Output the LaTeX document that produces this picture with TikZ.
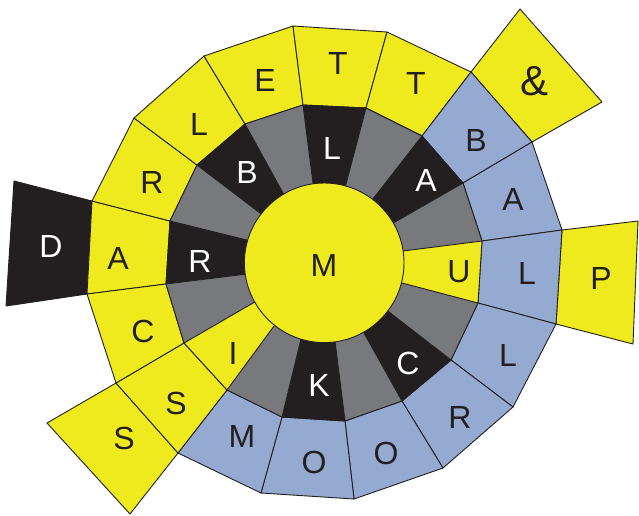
\documentclass[tikz,border=0pt]{standalone}
\usepackage{fontspec}
\setmainfont{Liberation Sans}
\usetikzlibrary{calc}
\definecolor{ylw}{RGB}{238,234,30}
\definecolor{gry}{RGB}{120,121,125}
\definecolor{drk}{RGB}{35,31,32}
\definecolor{blu}{RGB}{149,170,208}
\begin{document}
\begin{tikzpicture}[x=1pt,y=-1pt,
  edge/.style={draw=drk,line width=0.9pt,line join=round},
  blk/.style={font=\fontsize{32}{32}\selectfont,text=drk,inner sep=0pt},
  wht/.style={font=\fontsize{32}{32}\selectfont,text=white,inner sep=0pt}]
\useasboundingbox (0,0) rectangle (639,515);
% outer, middle and circle points
\coordinate (o1) at (87,294);   \coordinate (m1) at (166,284);  \coordinate (c1) at (247,274);
\coordinate (o2) at (92,201);   \coordinate (m2) at (170,221);  \coordinate (c2) at (247,240);
\coordinate (o3) at (134,118);  \coordinate (m3) at (197,165);  \coordinate (c3) at (260,213);
\coordinate (o4) at (204,56);   \coordinate (m4) at (245,124);  \coordinate (c4) at (283,193);
\coordinate (o5) at (293,26);   \coordinate (m5) at (303,105);  \coordinate (c5) at (313,183);
\coordinate (o6) at (387,32);   \coordinate (m6) at (366,108);  \coordinate (c6) at (346,184);
\coordinate (o7) at (471,72);   \coordinate (m7) at (422,136);  \coordinate (c7) at (373,199);
\coordinate (o8) at (532,142);  \coordinate (m8) at (463,183);  \coordinate (c8) at (395,222);
\coordinate (o9) at (562,230);  \coordinate (m9) at (482,241);  \coordinate (c9) at (403,251);
\coordinate (o10) at (556,324); \coordinate (m10) at (478,303); \coordinate (c10) at (402,283);
\coordinate (o11) at (513,407); \coordinate (m11) at (451,360); \coordinate (c11) at (389,312);
\coordinate (o12) at (443,468); \coordinate (m12) at (402,401); \coordinate (c12) at (364,333);
\coordinate (o13) at (354,499); \coordinate (m13) at (345,421); \coordinate (c13) at (335,341);
\coordinate (o14) at (261,493); \coordinate (m14) at (282,417); \coordinate (c14) at (301,339);
\coordinate (o15) at (178,453); \coordinate (m15) at (227,390); \coordinate (c15) at (274,326);
\coordinate (o16) at (116,383); \coordinate (m16) at (184,343); \coordinate (c16) at (253,303);
\coordinate (ctr) at (324.2,262.8);
% extra blocks
\filldraw[edge,fill=drk] (14,181) -- (o2) -- (o1) -- (6,306) -- cycle;
\filldraw[edge,fill=ylw] (o7) -- (520,9) -- (602,102) -- (o8) -- cycle;
\filldraw[edge,fill=ylw] (o9) -- (638,221) -- (633,344) -- (o10) -- cycle;
\filldraw[edge,fill=ylw] (o16) -- (47,423) -- (130,514) -- (o15) -- cycle;
% outer ring
\foreach \i/\j/\col in {1/2/ylw,2/3/ylw,3/4/ylw,4/5/ylw,5/6/ylw,6/7/ylw,7/8/blu,8/9/blu,
  9/10/blu,10/11/blu,11/12/blu,12/13/blu,13/14/blu,14/15/blu,15/16/ylw,16/1/ylw}
  \filldraw[edge,fill=\col] (o\i) -- (o\j) -- (m\j) -- (m\i) -- cycle;
% inner ring
\foreach \i/\j/\col in {1/2/drk,2/3/gry,3/4/drk,4/5/gry,5/6/drk,6/7/gry,7/8/drk,8/9/gry,
  9/10/ylw,10/11/gry,11/12/drk,12/13/gry,13/14/drk,14/15/gry,15/16/ylw,16/1/gry}
  \fill[\col] (m\i) -- (m\j) -- ($(m\j)!1.2!(c\j)$) -- ($(m\i)!1.2!(c\i)$) -- cycle;
\foreach \i in {1,...,16}
  \draw[edge] (m\i) -- ($(m\i)!1.2!(c\i)$);
\draw[edge] (m1) \foreach \i in {2,...,16} { -- (m\i) } -- cycle;
% centre
\filldraw[edge,fill=ylw] (ctr) circle[radius=79.8];
% letters
\node[blk] (tM) at (324,265) {M};
\node[wht] (tD) at (51,246) {D};
\node[blk] (tA1) at (118,258) {A};
\node[blk] (tR1) at (152,182) {R};
\node[blk] (tL1) at (199,124) {L};
\node[blk] (tE) at (265,80) {E};
\node[blk] (tT1) at (338,63) {T};
\node[blk] (tT2) at (416,83) {T};
\node[blk,font=\fontsize{42}{42}\selectfont] (tAmp) at (534,81) {\&};
\node[blk] (tB2) at (476,140) {B};
\node[blk] (tA2) at (513,199) {A};
\node[blk] (tU) at (459,272) {U};
\node[blk] (tL2) at (527,273) {L};
\node[blk] (tP) at (601,278) {P};
\node[blk] (tL3) at (508,355) {L};
\node[blk] (tR3) at (460,417) {R};
\node[blk] (tO1) at (386,453) {O};
\node[blk] (tO2) at (314,462) {O};
\node[blk] (tM2) at (242,436) {M};
\node[blk] (tS1) at (176,403) {S};
\node[blk] (tS2) at (124,438) {S};
\node[blk] (tC1) at (143,331) {C};
\node[blk] (tI) at (233,353) {I};
\node[wht] (tR2) at (200,261) {R};
\node[wht] (tB1) at (247,172) {B};
\node[wht] (tL4) at (332,148) {L};
\node[wht] (tA3) at (426,180) {A};
\node[wht] (tC2) at (408,363) {C};
\node[wht] (tK) at (319,385) {K};
\end{tikzpicture}
\end{document}
